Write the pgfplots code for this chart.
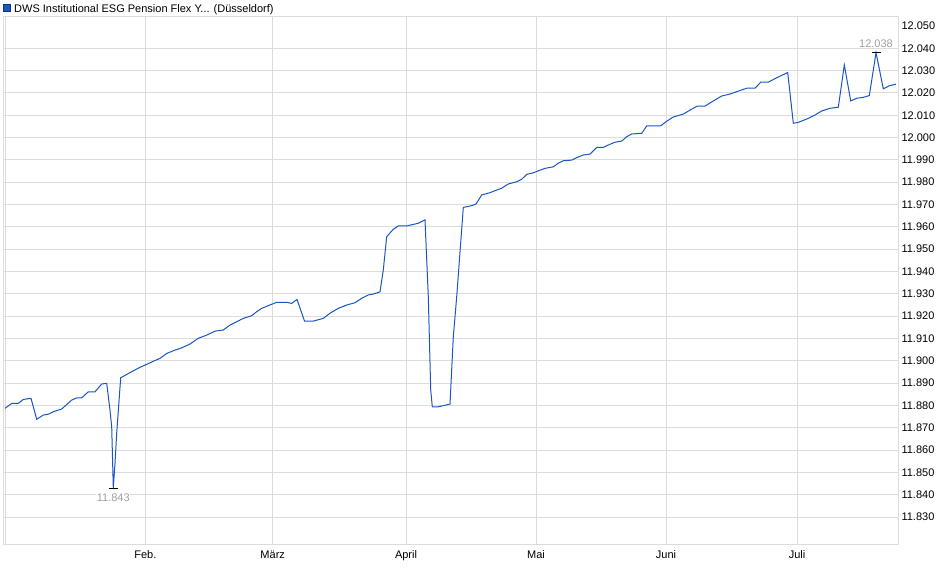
\documentclass[border=0pt]{standalone}
\usepackage{fontspec}
\setmainfont{Liberation Sans}
\usepackage{pgfplots}
\pgfplotsset{compat=1.18}
\definecolor{lineblue}{RGB}{25,85,195}
\definecolor{gridgray}{RGB}{220,220,220}
\definecolor{lblgray}{RGB}{160,160,160}
\newcommand{\f}{\fontsize{11bp}{13bp}\selectfont}
\begin{document}
\begin{tikzpicture}[x=1bp,y=1bp]
\useasboundingbox (-4,-34) rectangle (936,545);
\begin{axis}[
  at={(0,0)}, anchor=south west,
  scale only axis, width=894bp, height=528bp,
  xmin=4, xmax=898, ymin=11.8175, ymax=12.054,
  xtick={145.3,272.7,406,536,666,797},
  xticklabels={Feb.,März,April,Mai,Juni,Juli},
  xticklabel style={yshift=-2bp},
  extra x ticks={6}, extra x tick labels={},
  ytick={11.83,11.84,11.85,11.86,11.87,11.88,11.89,11.90,11.91,11.92,11.93,11.94,11.95,11.96,11.97,11.98,11.99,12.00,12.01,12.02,12.03,12.04},
  extra y ticks={12.05}, extra y tick style={grid=none},
  yticklabel pos=right,
  /pgf/number format/.cd, fixed, fixed zerofill, precision=3, 1000 sep={}, assume math mode=true,
  /pgfplots/.cd,
  major tick length=0pt,
  grid=major,
  grid style={gridgray, line width=1bp},
  axis line style={gridgray, line width=1bp},
  tick label style={font=\f, text=black},
  clip=false,
]
\addplot[lineblue, line width=1bp, mark=none] coordinates {
(5,11.8787) (11.7,11.8809) (18.3,11.8809) (23.3,11.8827) (31,11.8832)
(36.7,11.8738) (43.3,11.8757) (48.3,11.8761) (53.3,11.8772) (61.7,11.8784)
(71.7,11.8824) (76.7,11.8834) (81.7,11.8834) (88.3,11.8861) (95,11.8861)
(101.7,11.8896) (106.7,11.8899) (110,11.8779) (111.7,11.8705) (113.3,11.843)
(115,11.8541) (116.7,11.8676) (120.7,11.8924) (126.7,11.8939) (133.3,11.8955)
(140,11.8971) (146.7,11.8984) (153.3,11.8998) (160,11.9011) (166.7,11.9033)
(175,11.9048) (181.7,11.9058) (190,11.9075) (198.3,11.9101) (206.7,11.9115)
(215,11.9133) (223.3,11.9138) (230,11.9160) (236.7,11.9175) (243.3,11.9190)
(251.7,11.9202) (256.7,11.9220) (261.7,11.9235) (268.3,11.9247) (276.7,11.9262)
(286.7,11.9262) (291.7,11.9257) (297,11.9275) (304.5,11.9178) (313.3,11.9178)
(323.3,11.9190) (330,11.9213) (338.3,11.9235) (346.7,11.9250) (355,11.9260)
(361.7,11.9280) (368.3,11.9295) (373.3,11.9299) (380,11.9309) (383.3,11.9407)
(386.7,11.9556) (393.3,11.9589) (398.3,11.9604) (406.7,11.9604) (413.3,11.9611)
(418.3,11.9616) (425,11.9631) (428.3,11.9287) (430.7,11.8869) (432.3,11.8794)
(438.3,11.8794) (450,11.8806) (453.3,11.9108) (456.7,11.9287) (463.3,11.9687)
(471.7,11.9695) (476,11.9702) (481.7,11.9743) (490,11.9753) (495,11.9762)
(501.7,11.9773) (508.3,11.9792) (516.7,11.9802) (521.7,11.9813) (526.7,11.9835)
(533.3,11.9842) (538.3,11.9851) (545,11.9862) (553.3,11.9869) (558.3,11.9885)
(563.3,11.9896) (571.7,11.9899) (576.7,11.9910) (583.3,11.9922) (590,11.9926)
(596.7,11.9956) (603.3,11.9956) (610,11.9970) (615,11.9979) (621.7,11.9984)
(626.7,12.0004) (631.7,12.0016) (641.7,12.0019) (646.7,12.0052) (660.5,12.0052)
(666.7,12.0073) (673.3,12.0092) (683.3,12.0105) (690,12.0123) (697.3,12.0141)
(705,12.0141) (713.3,12.0164) (721.7,12.0186) (730,12.0195) (738.3,12.0208)
(746.7,12.0221) (755,12.0221) (760.7,12.0248) (768.3,12.0248) (776.7,12.0268)
(787.7,12.0291) (793.3,12.0064) (798.3,12.0068) (808.3,12.0086) (815,12.0101)
(821.7,12.0119) (830,12.0131) (838.3,12.0136) (844.3,12.0325) (850.7,12.0164)
(856.7,12.0176) (863.3,12.0180) (869.3,12.0188) (876,12.038) (883.3,12.0218)
(889.3,12.0232) (896,12.0239)
};
\addplot[black, only marks, mark=-, mark size=4.5bp, mark options={line width=1bp},
  nodes near coords={11.843},
  nodes near coords style={anchor=center, yshift=-10bp, fill=white, text=lblgray, inner sep=0.5bp, font=\f}]
  coordinates {(113.3,11.843)};
\addplot[black, only marks, mark=-, mark size=4.5bp, mark options={line width=1bp},
  nodes near coords={12.038},
  nodes near coords style={anchor=center, yshift=9bp, fill=white, text=lblgray, inner sep=0.5bp, font=\f}]
  coordinates {(876,12.038)};
\end{axis}
\filldraw[fill=lineblue, draw={rgb,255:red,20;green,50;blue,120}, line width=0.8bp] (-1,533.5) rectangle (6.5,541);
\node[anchor=base west, inner sep=0pt, font=\f] at (10,532.5) {DWS Institutional ESG Pension Flex Y... (Düsseldorf)};
\end{tikzpicture}
\end{document}
